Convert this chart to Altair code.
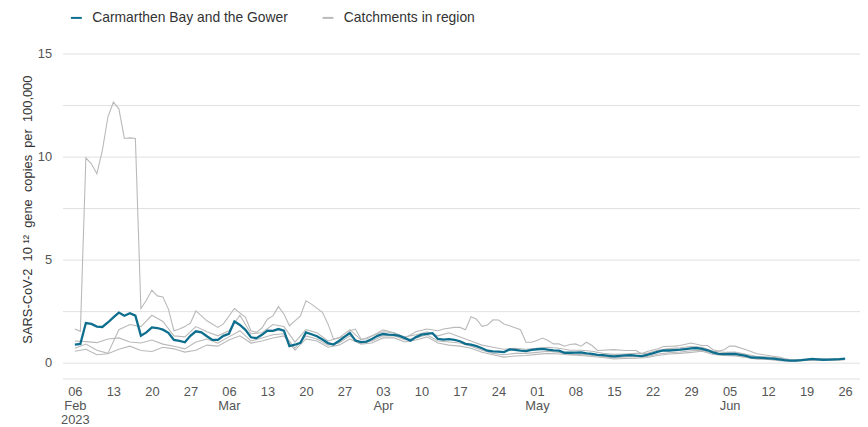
import altair as alt
import pandas as pd

START = "2023-02-06"
MAIN_NAME = "Carmarthen Bay and the Gower"
GREY_NAME = "Catchments in region"

# Regional line: one value per day from 06 Feb 2023 (day 0) to 26 Jun 2023 (day 140)
teal_vals = [
    0.88, 0.91, 1.92, 1.88, 1.75, 1.73, 1.95, 2.20, 2.43, 2.28,
    2.40, 2.28, 1.31, 1.47, 1.71, 1.68, 1.60, 1.45, 1.10, 1.06,
    0.99, 1.30, 1.52, 1.47, 1.28, 1.10, 1.10, 1.30, 1.40, 2.00,
    1.83, 1.59, 1.23, 1.19, 1.35, 1.55, 1.54, 1.63, 1.55, 0.80,
    0.87, 0.96, 1.47, 1.38, 1.28, 1.12, 0.95, 0.88, 1.05, 1.25,
    1.44, 1.07, 1.00, 1.02, 1.15, 1.30, 1.39, 1.36, 1.35, 1.30,
    1.19, 1.07, 1.24, 1.36, 1.40, 1.43, 1.15, 1.12, 1.14, 1.10,
    1.04, 0.91, 0.87, 0.80, 0.70, 0.58, 0.55, 0.53, 0.51, 0.64,
    0.62, 0.58, 0.56, 0.62, 0.65, 0.67, 0.63, 0.60, 0.58, 0.48,
    0.48, 0.49, 0.50, 0.45, 0.42, 0.38, 0.36, 0.33, 0.30, 0.33,
    0.35, 0.37, 0.34, 0.32, 0.38, 0.45, 0.53, 0.59, 0.59, 0.61,
    0.63, 0.66, 0.69, 0.71, 0.67, 0.60, 0.50, 0.43, 0.41, 0.42,
    0.43, 0.38, 0.33, 0.25, 0.24, 0.23, 0.21, 0.19, 0.16, 0.12,
    0.10, 0.10, 0.12, 0.15, 0.18, 0.16, 0.14, 0.15, 0.16, 0.17,
    0.19,
]

# Catchment A (the one with the February spike)
a_days = [0, 1, 2, 3, 4, 5, 6, 7, 8, 9, 10, 11, 12, 13, 14, 15, 16, 17, 18, 19,
          20, 21, 22, 24, 26, 27, 29, 31, 32, 33, 34, 35, 36, 37, 38, 39, 40, 41,
          42, 43, 45, 46, 47, 49, 50, 51, 52, 53, 55, 56, 58, 60, 62, 64, 66, 67,
          69, 70, 71, 72, 73, 74, 75, 76, 77, 78, 79, 81, 82, 83, 84, 85, 86, 87,
          88, 89, 90, 91, 92, 93, 94, 95, 98, 100, 102, 103, 104, 106, 107, 109,
          110, 112, 114, 115, 116, 117, 118, 119, 120, 122, 124, 126, 128, 130,
          132, 134, 136, 138, 140]
a_vals = [1.63, 1.52, 9.94, 9.65, 9.17, 10.30, 11.92, 12.64, 12.32, 10.88, 10.91,
          10.88, 2.63, 3.03, 3.52, 3.24, 3.19, 2.60, 1.55, 1.63, 1.75, 1.92, 2.51,
          2.03, 1.71, 1.88, 2.63, 2.20, 1.55, 1.47, 1.68, 2.11, 2.27, 2.72, 2.36,
          1.79, 2.03, 2.27, 3.00, 2.84, 2.44, 1.88, 1.15, 1.28, 1.55, 1.63, 1.15,
          1.15, 1.44, 1.59, 1.45, 1.20, 1.50, 1.63, 1.55, 1.63, 1.71, 1.71, 1.60,
          2.23, 2.11, 1.76, 1.83, 2.08, 2.07, 1.88, 1.79, 1.60, 0.99, 0.99, 1.07,
          1.19, 1.07, 0.91, 0.91, 0.80, 0.88, 0.91, 0.80, 0.99, 0.83, 0.59, 0.63,
          0.59, 0.59, 0.43, 0.54, 0.67, 0.78, 0.80, 0.83, 0.95, 0.83, 0.83, 0.63,
          0.56, 0.63, 0.80, 0.80, 0.63, 0.43, 0.35, 0.27, 0.11, 0.12, 0.16, 0.13,
          0.15, 0.17]

# Catchments B, C, D: every second day from day 0 to day 140
bcd_days = list(range(0, 141, 2))
b_vals = [0.70, 0.90, 0.60, 0.45, 1.60, 1.85, 1.75, 2.30, 2.00, 1.30, 1.25, 1.75,
          1.50, 1.30, 1.55, 2.30, 1.40, 1.45, 1.85, 1.75, 1.00, 1.60, 1.45, 1.05,
          1.20, 1.60, 1.10, 1.30, 1.50, 1.45, 1.25, 1.35, 1.50, 1.30, 1.45, 1.25,
          1.05, 0.85, 0.75, 0.65, 0.70, 0.65, 0.70, 0.75, 0.70, 0.60, 0.60, 0.55,
          0.45, 0.40, 0.42, 0.45, 0.45, 0.60, 0.68, 0.72, 0.78, 0.75, 0.55, 0.50,
          0.52, 0.40, 0.30, 0.27, 0.22, 0.15, 0.14, 0.20, 0.17, 0.18, 0.20]
c_vals = [1.05, 1.02, 0.97, 1.15, 1.20, 1.00, 0.95, 1.10, 0.90, 0.80, 0.67, 1.00,
          1.15, 0.95, 1.25, 1.55, 1.05, 1.20, 1.35, 1.40, 0.70, 1.30, 1.15, 0.85,
          0.95, 1.30, 0.95, 1.05, 1.30, 1.30, 1.10, 1.20, 1.35, 1.05, 1.00, 0.95,
          0.80, 0.60, 0.45, 0.38, 0.45, 0.45, 0.50, 0.55, 0.50, 0.40, 0.40, 0.35,
          0.30, 0.23, 0.28, 0.30, 0.30, 0.42, 0.48, 0.52, 0.58, 0.60, 0.45, 0.38,
          0.38, 0.30, 0.20, 0.18, 0.13, 0.08, 0.10, 0.13, 0.12, 0.13, 0.15]
d_vals = [0.55, 0.65, 0.38, 0.43, 0.65, 0.80, 0.59, 0.54, 0.75, 0.67, 0.51, 0.60,
          0.85, 0.80, 1.10, 1.30, 0.95, 1.05, 1.20, 1.30, 0.60, 1.15, 1.05, 0.75,
          0.85, 1.15, 0.90, 0.95, 1.20, 1.20, 1.00, 1.10, 1.25, 0.95, 0.85, 0.80,
          0.70, 0.50, 0.38, 0.27, 0.32, 0.35, 0.40, 0.45, 0.42, 0.37, 0.35, 0.30,
          0.25, 0.18, 0.20, 0.22, 0.25, 0.35, 0.42, 0.45, 0.50, 0.55, 0.40, 0.35,
          0.33, 0.25, 0.17, 0.15, 0.10, 0.07, 0.09, 0.12, 0.11, 0.12, 0.14]

tick_dates = [(2, 6), (2, 13), (2, 20), (2, 27), (3, 6), (3, 13), (3, 20), (3, 27),
              (4, 3), (4, 10), (4, 17), (4, 24), (5, 1), (5, 8), (5, 15), (5, 22),
              (5, 29), (6, 5), (6, 12), (6, 19), (6, 26)]

Y_TITLE = "SARS-CoV-2 \u00a010\u00a0\u00b9\u00b2 \u00a0gene \u00a0copies \u00a0per \u00a0100,000"

start = pd.Timestamp(START)


def rows(days, vals, series, kind):
    return [
        {"date": (start + pd.Timedelta(days=d)).strftime("%Y-%m-%d"),
         "value": v, "series": series, "kind": kind}
        for d, v in zip(days, vals)
    ]


records = []
records += rows(a_days, a_vals, "A", GREY_NAME)
records += rows(bcd_days, b_vals, "B", GREY_NAME)
records += rows(bcd_days, c_vals, "C", GREY_NAME)
records += rows(bcd_days, d_vals, "D", GREY_NAME)
records += rows(list(range(len(teal_vals))), teal_vals, "main", MAIN_NAME)
df = pd.DataFrame(records)

FONT = "Liberation Sans"
TEAL = "#0d6e8e"
GREY = "#b9b9b9"

x_enc = alt.X(
    "date:T",
    title=None,
    scale=alt.Scale(
        type="utc",
        domain=[alt.DateTime(year=2023, month=2, date=3, hours=18, utc=True),
                alt.DateTime(year=2023, month=6, date=28, hours=17, utc=True)],
    ),
    axis=alt.Axis(
        values=[alt.DateTime(year=2023, month=m, date=d, utc=True) for m, d in tick_dates],
        labelExpr="[utcFormat(datum.value, '%d'), utcdate(datum.value) <= 7 ? utcFormat(datum.value, '%b') : '', (utcmonth(datum.value) == 1 && utcdate(datum.value) <= 7) ? '2023' : '']",
        grid=False,
        ticks=False,
        tickSize=0,
        labelPadding=7,
        labelFontSize=13,
        labelLineHeight=14,
        labelColor="#555555",
        labelFont=FONT,
        domain=True,
        domainColor="#e0e0e0",
        labelOverlap=False,
        labelFlush=False,
    ),
)
y_enc = alt.Y(
    "value:Q",
    title=Y_TITLE,
    scale=alt.Scale(domain=[-0.77, 15], nice=False, zero=False),
    axis=alt.Axis(
        values=[0, 2.5, 5, 7.5, 10, 12.5, 15],
        labelExpr="datum.value % 5 === 0 ? format(datum.value, 'd') : ''",
        grid=True,
        gridColor="#e0e0e0",
        gridWidth=1,
        domain=False,
        ticks=False,
        tickSize=0,
        labelPadding=11,
        labelFontSize=13,
        labelColor="#555555",
        labelFont=FONT,
        titleFont=FONT,
        titleFontSize=13,
        titleFontWeight="normal",
        titleColor="#333333",
        titleAngle=270,
        titleX=-35,
        titleY=157,
        titleAlign="center",
        titleBaseline="middle",
        titleLimit=400,
    ),
)
color_enc = alt.Color(
    "kind:N",
    scale=alt.Scale(domain=[MAIN_NAME, GREY_NAME], range=[TEAL, GREY]),
    legend=alt.Legend(
        title=None,
        orient="none",
        legendX=7,
        legendY=-43,
        direction="horizontal",
        symbolType="stroke",
        symbolSize=121,
        symbolStrokeWidth=2,
        labelOffset=9,
        columnPadding=30,
        labelLimit=0,
        labelFont=FONT,
        labelFontSize=14,
        labelColor="#333333",
    ),
)

base = alt.Chart(df)
grey = base.transform_filter(alt.datum.kind == GREY_NAME).mark_line(
    strokeWidth=1.1
).encode(x=x_enc, y=y_enc, color=color_enc, detail="series:N")
teal = base.transform_filter(alt.datum.kind == MAIN_NAME).mark_line(
    strokeWidth=2.3
).encode(x=x_enc, y=y_enc, color=color_enc)

chart = (
    alt.layer(grey, teal)
    .properties(
        width=805,
        height=328,
        autosize=alt.AutoSizeParams(type="none"),
        padding={"left": 55, "top": 44, "right": 0, "bottom": 52},
    )
    .configure(background="white")
    .configure_view(strokeWidth=0, stroke="transparent")
)

chart.save("out.html", embed_options={"renderer": "svg", "actions": False})
